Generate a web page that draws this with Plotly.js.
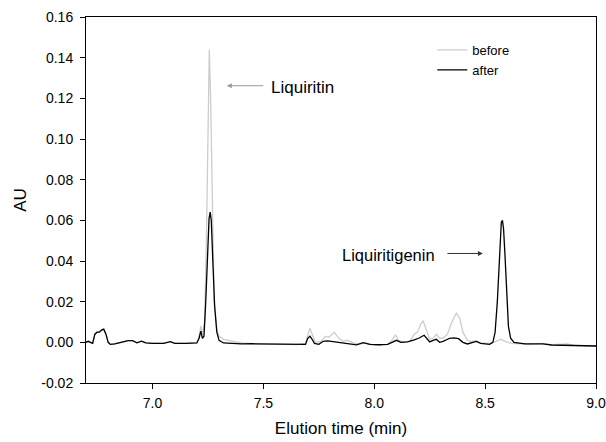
<!DOCTYPE html>
<html>
<head>
<meta charset="utf-8">
<script src="https://cdn.plot.ly/plotly-3.0.1.min.js"></script>
<style>html,body{margin:0;padding:0;background:#fff;}#chart{width:606px;height:442px;}</style>
</head>
<body>
<div id="chart"></div>
<script>
// Elution time (min) and absorbance (AU)
var timeBefore = [6.70, 6.71, 6.72, 6.73, 6.74, 6.75, 6.76, 6.77, 6.78, 6.79, 6.80, 6.81, 6.83, 6.86, 6.89, 6.91, 6.93, 6.95, 6.97, 7.00, 7.05, 7.08, 7.10, 7.15, 7.20, 7.21, 7.218, 7.225, 7.235, 7.243, 7.25, 7.256, 7.262, 7.27, 7.278, 7.29, 7.30, 7.32, 7.36, 7.40, 7.45, 7.50, 7.55, 7.60, 7.65, 7.69, 7.70, 7.71, 7.72, 7.735, 7.76, 7.78, 7.795, 7.82, 7.84, 7.86, 7.88, 7.90, 7.93, 7.96, 8.00, 8.06, 8.08, 8.095, 8.11, 8.13, 8.16, 8.18, 8.195, 8.21, 8.22, 8.235, 8.25, 8.265, 8.28, 8.295, 8.31, 8.33, 8.35, 8.37, 8.385, 8.40, 8.42, 8.44, 8.46, 8.48, 8.52, 8.55, 8.57, 8.59, 8.62, 8.70, 8.76, 8.80, 8.87, 8.90, 9.00];
var auBefore = [0.000, 0.0005, 0.000, -0.0005, 0.004, 0.005, 0.005, 0.006, 0.0065, 0.004, 0.000, -0.001, -0.0008, 0.000, 0.0008, 0.0008, -0.0002, 0.0006, -0.0003, -0.0005, -0.0005, 0.0003, -0.0005, -0.0005, -0.0003, 0.003, 0.008, 0.004, 0.010, 0.050, 0.110, 0.144, 0.120, 0.060, 0.020, 0.006, 0.003, 0.0015, 0.0005, -0.0003, -0.0006, -0.0008, -0.0009, -0.001, -0.0011, -0.0005, 0.004, 0.007, 0.004, 0.000, 0.0005, 0.003, 0.0025, 0.005, 0.002, 0.0005, 0.001, 0.000, -0.001, -0.0003, -0.0012, -0.001, 0.001, 0.0036, 0.001, 0.0002, 0.0005, 0.004, 0.005, 0.009, 0.0106, 0.006, 0.0015, 0.002, 0.004, 0.002, 0.002, 0.004, 0.010, 0.0143, 0.012, 0.005, 0.001, 0.0003, 0.0008, -0.0003, -0.0005, 0.0005, 0.0015, 0.0005, -0.0005, -0.001, -0.0005, -0.0012, -0.0008, -0.0015, -0.0018];

var timeAfter = [6.70, 6.71, 6.72, 6.73, 6.74, 6.75, 6.76, 6.77, 6.78, 6.79, 6.80, 6.81, 6.83, 6.86, 6.89, 6.91, 6.93, 6.95, 6.97, 7.00, 7.05, 7.08, 7.10, 7.15, 7.20, 7.21, 7.218, 7.225, 7.232, 7.24, 7.248, 7.255, 7.26, 7.265, 7.272, 7.28, 7.29, 7.30, 7.32, 7.40, 7.45, 7.50, 7.55, 7.60, 7.65, 7.69, 7.70, 7.71, 7.72, 7.73, 7.75, 7.77, 7.79, 7.82, 7.85, 7.88, 7.92, 7.95, 7.98, 8.02, 8.06, 8.08, 8.10, 8.12, 8.15, 8.18, 8.20, 8.225, 8.24, 8.25, 8.265, 8.28, 8.295, 8.31, 8.34, 8.36, 8.38, 8.40, 8.42, 8.44, 8.46, 8.48, 8.52, 8.535, 8.545, 8.555, 8.562, 8.568, 8.573, 8.578, 8.583, 8.589, 8.596, 8.605, 8.615, 8.63, 8.68, 8.76, 8.80, 8.90, 9.00];
var auAfter = [0.000, 0.0005, 0.000, -0.0005, 0.004, 0.005, 0.005, 0.006, 0.0065, 0.004, 0.000, -0.001, -0.0008, 0.000, 0.0008, 0.0008, -0.0002, 0.0006, -0.0003, -0.0005, -0.0005, 0.0003, -0.0005, -0.0005, -0.0003, 0.002, 0.0055, 0.002, 0.003, 0.020, 0.045, 0.061, 0.064, 0.060, 0.040, 0.018, 0.005, 0.001, -0.0003, -0.0008, -0.0007, -0.0008, -0.001, -0.001, -0.0012, -0.001, 0.002, 0.003, 0.0015, -0.0005, -0.001, 0.0005, 0.0007, 0.0003, 0.000, -0.0005, -0.0012, -0.0002, -0.001, -0.0012, -0.001, 0.000, 0.001, 0.000, 0.0002, 0.0012, 0.002, 0.0035, 0.0015, 0.0002, 0.001, 0.0015, 0.000, 0.0005, 0.002, 0.0022, 0.0018, 0.000, -0.0008, -0.0002, 0.0005, -0.0005, -0.001, 0.000, 0.005, 0.020, 0.038, 0.052, 0.059, 0.060, 0.056, 0.044, 0.024, 0.008, 0.002, 0.000, -0.0008, -0.0008, -0.0013, -0.0017, -0.0018];

var seriesNames = ['before', 'after'];
var yTickVals = [-0.02, 0.00, 0.02, 0.04, 0.06, 0.08, 0.10, 0.12, 0.14, 0.16];
var yTickText = ['-0.02', '0.00', '0.02', '0.04', '0.06', '0.08', '0.10', '0.12', '0.14', '0.16'];
var xTickVals = [7.0, 7.5, 8.0, 8.5, 9.0];
var xTickText = ['7.0', '7.5', '8.0', '8.5', '9.0'];
var peakLabels = ['Liquiritin', 'Liquiritigenin'];
var peakLabelPos = [[7.335, 0.1262, 7.527, 0.1255], [8.490, 0.0437, 8.283, 0.0428]];

var traces = [
  {x: timeBefore, y: auBefore, type: 'scatter', mode: 'lines', name: seriesNames[0],
   line: {color: '#cccccc', width: 1.3}},
  {x: timeAfter, y: auAfter, type: 'scatter', mode: 'lines', name: seriesNames[1],
   line: {color: '#000000', width: 1.3}}
];

var fontFam = 'Liberation Sans, Arial, sans-serif';
var layout = {
  width: 606, height: 442,
  margin: {l: 86, r: 10, t: 17, b: 59},
  paper_bgcolor: '#ffffff', plot_bgcolor: '#ffffff',
  font: {family: fontFam, size: 14, color: '#000'},
  showlegend: true,
  legend: {x: 0.679, y: 0.951, xanchor: 'left', yanchor: 'top', bgcolor: 'rgba(0,0,0,0)',
           font: {size: 13, family: fontFam}, itemwidth: 30, tracegroupgap: 0},
  xaxis: {range: [6.7, 9.0], tickvals: xTickVals, ticktext: xTickText,
          showline: true, mirror: true, linecolor: '#000', linewidth: 1,
          ticks: 'outside', ticklen: 5, tickcolor: '#000', showgrid: false, zeroline: false,
          tickfont: {size: 14}, ticklabelstandoff: 2,
          title: {text: 'Elution time (min)', font: {size: 17}, standoff: 12}},
  yaxis: {range: [-0.02, 0.16], tickvals: yTickVals, ticktext: yTickText,
          showline: true, mirror: true, linecolor: '#000', linewidth: 1,
          ticks: 'outside', ticklen: 5, tickcolor: '#000', showgrid: false, zeroline: false,
          tickfont: {size: 14}, ticklabelstandoff: 4,
          title: {text: 'AU', font: {size: 17}, standoff: 10}},
  annotations: [
    {x: peakLabelPos[0][0], y: peakLabelPos[0][1], xref: 'x', yref: 'y', text: '',
     showarrow: true, ax: 38, ay: 0, axref: 'pixel', ayref: 'pixel',
     arrowcolor: '#999999', arrowwidth: 1, arrowhead: 2, arrowsize: 1},
    {x: peakLabelPos[0][2], y: peakLabelPos[0][3], xref: 'x', yref: 'y', text: peakLabels[0],
     showarrow: false, xanchor: 'left', yanchor: 'middle', font: {size: 17}},
    {x: peakLabelPos[1][0], y: peakLabelPos[1][1], xref: 'x', yref: 'y', text: '',
     showarrow: true, ax: -37, ay: 0, axref: 'pixel', ayref: 'pixel',
     arrowcolor: '#333333', arrowwidth: 1, arrowhead: 2, arrowsize: 1},
    {x: peakLabelPos[1][2], y: peakLabelPos[1][3], xref: 'x', yref: 'y', text: peakLabels[1],
     showarrow: false, xanchor: 'right', yanchor: 'middle', font: {size: 16.5}}
  ]
};

Plotly.newPlot('chart', traces, layout, {displayModeBar: false, staticPlot: true});
</script>
</body>
</html>
